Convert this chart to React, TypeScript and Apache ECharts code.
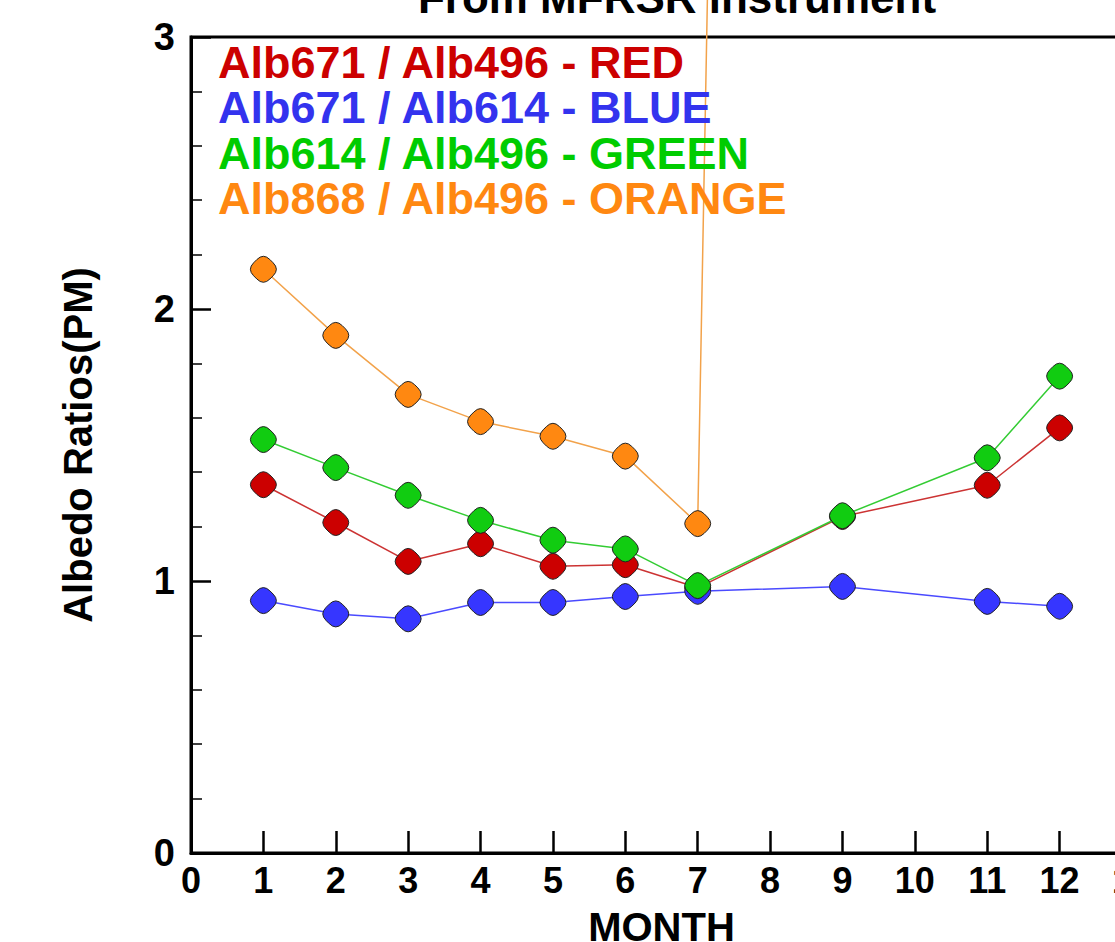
import React, { useEffect, useRef } from "react";
import * as echarts from "echarts";

const months = [1, 2, 3, 4, 5, 6, 7, 9, 11, 12];
const redVals = [1.354, 1.215, 1.072, 1.137, 1.054, 1.06, 0.975, 1.237, 1.352, 1.563];
const blueVals = [0.928, 0.879, 0.861, 0.921, 0.921, 0.943, 0.962, 0.98, 0.925, 0.907];
const greenVals = [1.52, 1.417, 1.315, 1.223, 1.15, 1.118, 0.983, 1.24, 1.453, 1.753];
const orangeMonths = [1, 2, 3, 4, 5, 6, 7, 9];
const orangeVals = [2.146, 1.903, 1.686, 1.586, 1.532, 1.459, 1.211, 30];

const seriesNames = ["Alb671 / Alb496", "Alb671 / Alb614", "Alb614 / Alb496", "Alb868 / Alb496"];
const legendLabels = [
  "Alb671 / Alb496 - RED",
  "Alb671 / Alb614 - BLUE",
  "Alb614 / Alb496 - GREEN",
  "Alb868 / Alb496 - ORANGE",
];
const markerColors = ["#cc0000", "#3636ff", "#11cc11", "#ff8811"];
const lineColors = ["#cc3333", "#4a4aff", "#33cc33", "#f2a24a"];
const textColors = ["#cc0000", "#3333ee", "#00cc00", "#ff8811"];
const titleText = "From MFRSR instrument";
const xTitle = "MONTH";
const yTitle = "Albedo Ratios(PM)";

const FONT = "Liberation Sans";
const diamond =
  "path://M4,-6L6,-4Q10,0,6,4L4,6Q0,10,-4,6L-6,4Q-10,0,-6,-4L-4,-6Q0,-10,4,-6Z";

export default function App() {
  const ref = useRef<HTMLDivElement>(null);
  useEffect(() => {
    if (!ref.current) return;
    const chart = echarts.init(ref.current, undefined, { renderer: "svg" });
    const valueSets = [redVals, blueVals, greenVals, orangeVals];
    const xSets = [months, months, months, orangeMonths];
    const series = seriesNames.map((name, i) => ({
      name,
      type: "line",
      clip: false,
      data: xSets[i].map((m, j) => [m, valueSets[i][j]]),
      symbol: diamond,
      symbolSize: 26,
      showSymbol: true,
      itemStyle: { color: markerColors[i], borderColor: "#222", borderWidth: 1 },
      lineStyle: { color: lineColors[i], width: 1.5 },
      z: 3 + i,
    }));
    chart.setOption({
      animation: false,
      backgroundColor: "#ffffff",
      title: {
        text: titleText,
        left: 672,
        textAlign: "center",
        top: -30,
        textStyle: { fontFamily: FONT, fontSize: 44, fontWeight: "bold", color: "#000" },
      },
      grid: {
        left: 191,
        top: 37,
        right: 68,
        bottom: 89,
        show: true,
        borderColor: "#000",
        borderWidth: 3,
        containLabel: false,
        outerBoundsMode: "none",
      },
      xAxis: {
        type: "value",
        min: 0,
        max: 13,
        interval: 1,
        name: xTitle,
        nameLocation: "middle",
        nameGap: 54,
        nameTextStyle: { fontFamily: FONT, fontSize: 40, fontWeight: "bold", color: "#000" },
        axisLine: { show: true, lineStyle: { color: "#000", width: 3 } },
        axisTick: { show: true, inside: true, length: 22, lineStyle: { color: "#000", width: 2.5 } },
        axisLabel: {
          margin: 9,
          fontFamily: FONT,
          fontSize: 36,
          fontWeight: "bold",
          color: "#000",
          showMinLabel: true,
          showMaxLabel: true,
        },
        splitLine: { show: false },
      },
      yAxis: {
        type: "value",
        min: 0,
        max: 3,
        interval: 1,
        name: yTitle,
        nameLocation: "middle",
        nameGap: 93,
        nameTextStyle: { fontFamily: FONT, fontSize: 40, fontWeight: "bold", color: "#000" },
        axisLine: { show: true, lineStyle: { color: "#000", width: 3 } },
        axisTick: { show: true, inside: true, length: 20, lineStyle: { color: "#000", width: 2.5 } },
        minorTick: { show: true, splitNumber: 5, length: 11, lineStyle: { color: "#000", width: 1.5 } },
        axisLabel: {
          margin: 16,
          fontFamily: FONT,
          fontSize: 38,
          fontWeight: "bold",
          color: "#000",
        },
        splitLine: { show: false },
      },
      graphic: legendLabels.map((t, i) => ({
        type: "text",
        left: 218,
        top: 65 + i * 45.3 - 25,
        z: 10,
        style: {
          text: t,
          fill: textColors[i],
          font: `bold 45px "${FONT}"`,
          textAlign: "left",
        },
      })),
      series,
    });
    return () => chart.dispose();
  }, []);
  return (
    <div
      style={{
        position: "fixed",
        left: 0,
        top: 0,
        width: 1115,
        height: 942,
        overflow: "hidden",
        background: "#fff",
      }}
    >
      <div ref={ref} style={{ width: 1200, height: 942 }} />
    </div>
  );
}
